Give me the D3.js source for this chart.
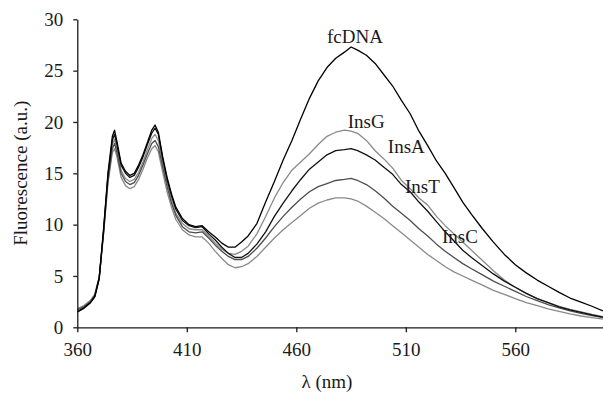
<!DOCTYPE html>
<html>
<head>
<meta charset="utf-8">
<script src="https://cdn.jsdelivr.net/npm/d3@7"></script>
<style>
  body { margin: 0; background: #fff; }
  text { font-family: "Liberation Serif", "DejaVu Serif", serif; fill: #1a1a1a; }
</style>
</head>
<body>
<svg id="chart" width="603" height="394"></svg>
<script>
// wavelength grid (nm) shared by all spectra
const lambda = [360, 363, 366, 368, 370, 372, 374, 376, 377, 378, 380, 382, 384, 386, 388, 390, 392, 394, 395.5, 397,
    399, 401, 403, 405, 408, 411, 414, 417, 420, 423, 426, 429, 432, 435, 438, 442, 446, 450, 454, 458,
    462, 466, 470, 474, 478, 482, 485, 488, 492, 496, 500, 504, 508, 512, 516, 520, 524, 528, 532, 536,
    540, 545, 550, 555, 560, 565, 570, 575, 580, 585, 590, 595, 600];

const fcDNA = [1.5, 1.85, 2.4, 3.0, 4.8, 9.6, 15.0, 18.6, 19.2, 18.2, 16.0, 15.2, 14.8, 15.0, 15.8, 16.8, 18.0, 19.2, 19.7, 19.0,
    16.6, 14.6, 13.0, 11.7, 10.6, 10.0, 9.8, 9.9, 9.3, 8.8, 8.2, 7.8, 7.8, 8.3, 8.9, 10.1, 12.2, 14.2, 16.3, 18.2,
    20.3, 22.3, 24.0, 25.3, 26.2, 26.8, 27.3, 27.0, 26.5, 25.7, 24.6, 23.5, 22.1, 20.8, 19.1, 17.7, 16.2, 15.0, 13.6, 12.2,
    11.0, 9.6, 8.3, 7.1, 6.1, 5.3, 4.6, 4.0, 3.4, 2.85, 2.45, 2.05, 1.6];

const insG = [1.8, 2.1, 2.6, 3.2, 4.9, 9.3, 14.5, 17.8, 18.3, 17.5, 15.3, 14.5, 14.2, 14.4, 15.1, 16.1, 17.3, 18.4, 18.8, 18.2,
    16.0, 14.0, 12.4, 11.1, 10.1, 9.6, 9.5, 9.5, 8.9, 8.2, 7.6, 7.2, 7.1, 7.4, 7.9, 9.1, 10.8, 12.6, 14.1, 15.3,
    16.1, 16.9, 17.8, 18.6, 19.0, 19.2, 19.1, 18.9, 18.2, 17.2, 16.4, 15.5, 14.3, 13.5, 12.6, 11.9, 10.8, 9.9, 9.1, 8.3,
    7.5, 6.5, 5.5, 4.6, 3.9, 3.3, 2.8, 2.4, 2.05, 1.75, 1.5, 1.25, 1.05];

const insA = [1.5, 1.9, 2.4, 3.0, 4.7, 9.4, 14.8, 18.2, 18.8, 17.9, 15.8, 15.0, 14.6, 14.8, 15.6, 16.6, 17.8, 18.9, 19.4, 18.8,
    16.4, 14.4, 12.8, 11.5, 10.4, 9.9, 9.7, 9.8, 9.1, 8.5, 7.8, 7.2, 6.8, 6.8, 7.2, 8.1, 9.3, 10.8, 12.1, 13.3,
    14.4, 15.4, 16.1, 16.8, 17.2, 17.3, 17.4, 17.2, 16.8, 16.3, 15.6, 14.9, 13.9, 13.2, 12.2, 11.3, 10.3, 9.3, 8.4, 7.5,
    6.8, 6.0, 5.2, 4.5, 3.9, 3.3, 2.8, 2.4, 2.0, 1.7, 1.45, 1.2, 1.0];

const insT = [1.7, 2.0, 2.5, 3.1, 4.8, 9.2, 14.3, 17.4, 17.9, 17.1, 15.0, 14.2, 13.9, 14.1, 14.8, 15.8, 16.9, 17.9, 18.2, 17.6,
    15.6, 13.7, 12.1, 10.9, 9.8, 9.3, 9.2, 9.3, 8.7, 8.0, 7.4, 6.9, 6.6, 6.6, 6.9, 7.7, 8.7, 9.8, 10.8, 11.7,
    12.5, 13.2, 13.7, 14.0, 14.3, 14.4, 14.5, 14.3, 13.9, 13.3, 12.6, 11.8, 11.1, 10.4, 9.6, 8.9, 8.1, 7.4, 6.8, 6.2,
    5.7, 5.1, 4.5, 4.0, 3.5, 3.0, 2.6, 2.2, 1.9, 1.6, 1.35, 1.15, 0.95];

const insC = [1.8, 2.1, 2.6, 3.2, 4.9, 9.1, 14.0, 17.0, 17.4, 16.7, 14.6, 13.8, 13.5, 13.7, 14.4, 15.4, 16.5, 17.4, 17.7, 17.1,
    15.1, 13.2, 11.7, 10.5, 9.5, 9.0, 8.8, 8.8, 8.2, 7.4, 6.7, 6.1, 5.8, 5.9, 6.2, 6.9, 7.8, 8.7, 9.5, 10.2,
    10.9, 11.6, 12.1, 12.4, 12.6, 12.6, 12.5, 12.3, 11.8, 11.2, 10.6, 9.9, 9.2, 8.5, 7.8, 7.1, 6.5, 5.9, 5.4, 5.0,
    4.6, 4.1, 3.6, 3.2, 2.8, 2.4, 2.1, 1.8, 1.55, 1.3, 1.1, 0.95, 0.8];

const xTicks = [360, 410, 460, 510, 560];
const yTicks = [0, 5, 10, 15, 20, 25, 30];

// curve labels, anchored in data units (nm, a.u.)
const labelNames = ["fcDNA", "InsG", "InsA", "InsT", "InsC"];
const labelLambda = [486.8, 483.5, 501.8, 509.6, 526.5];
const labelValue = [27.7, 19.4, 17.0, 13.1, 8.2];

const series = [
    {name: "fcDNA", values: fcDNA, color: "#000000"},
    {name: "InsG", values: insG, color: "#8a8a8a"},
    {name: "InsA", values: insA, color: "#111111"},
    {name: "InsT", values: insT, color: "#4d4d4d"},
    {name: "InsC", values: insC, color: "#8a8a8a"}
];

const width = 603, height = 394;
const margin = {top: 19.3, right: 0.1, bottom: 66.7, left: 77.3};

const svg = d3.select("#chart");

const x = d3.scaleLinear()
    .domain([360, 600])
    .range([margin.left, width - margin.right]);

const y = d3.scaleLinear()
    .domain([0, 30])
    .range([height - margin.bottom, margin.top]);

const line = d3.line()
    .x((d, i) => x(lambda[i]))
    .y(d => y(d));

// draw lighter curves first so the black ones sit on top
const order = ["InsC", "InsG", "InsT", "InsA", "fcDNA"];
svg.append("g")
    .selectAll("path")
    .data(order.map(n => series.find(s => s.name === n)))
    .join("path")
    .attr("d", d => line(d.values))
    .attr("fill", "none")
    .attr("stroke", d => d.color)
    .attr("stroke-width", 1.3)
    .attr("stroke-linejoin", "round");

// axes
let xAxis = svg.append("g")
    .attr("transform", "translate(0," + y(0) + ")")
    .call(d3.axisBottom(x).tickValues(xTicks).tickSize(5).tickPadding(10).tickSizeOuter(0));

let yAxis = svg.append("g")
    .attr("transform", "translate(" + x(360) + ",0)")
    .call(d3.axisLeft(y).tickValues(yTicks).tickSize(4).tickPadding(10).tickSizeOuter(0));

[xAxis, yAxis].forEach(g => {
    g.select(".domain").attr("stroke", "#1a1a1a").attr("stroke-width", 1.3);
    g.selectAll(".tick line").attr("stroke", "#1a1a1a").attr("stroke-width", 1.3);
    g.selectAll(".tick text")
        .attr("font-family", "'Liberation Serif', 'DejaVu Serif', serif")
        .attr("font-size", 19)
        .attr("fill", "#1a1a1a");
});

// axis titles
svg.append("text")
    .attr("x", x(474))
    .attr("y", 388)
    .attr("text-anchor", "middle")
    .attr("font-size", 19)
    .text("\u03bb (nm)");

svg.append("text")
    .attr("transform", "translate(27," + ((y(0) + y(30)) / 2) + ") rotate(-90)")
    .attr("text-anchor", "middle")
    .attr("font-size", 19)
    .text("Fluorescence (a.u.)");

// curve labels
svg.append("g")
    .selectAll("text")
    .data(labelNames)
    .join("text")
    .attr("x", (d, i) => x(labelLambda[i]))
    .attr("y", (d, i) => y(labelValue[i]))
    .attr("text-anchor", (d, i) => i === 0 ? "middle" : "start")
    .attr("font-size", 19)
    .text(d => d);
</script>
</body>
</html>
